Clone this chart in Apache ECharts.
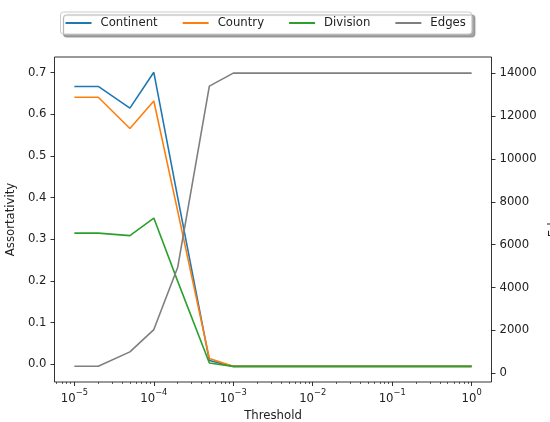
<!DOCTYPE html>
<html>
<head>
<meta charset="utf-8">
<script src="https://cdn.jsdelivr.net/npm/echarts@6/dist/echarts.min.js"></script>
<style>html,body{margin:0;padding:0;background:#fff}#c{width:550px;height:422px}</style>
</head>
<body>
<div id="c"></div>
<script>
// ---- data ----
const thresholds = [1e-5, 2e-5, 5e-5, 1e-4, 2e-4, 5e-4, 1e-3, 1e-2, 1e-1, 1];
const continent = [0.667, 0.667, 0.615, 0.701, 0.400, 0.009, -0.005, -0.005, -0.005, -0.005];
const country   = [0.641, 0.641, 0.566, 0.632, 0.367, 0.014, -0.005, -0.005, -0.005, -0.005];
const division  = [0.315, 0.315, 0.309, 0.351, 0.199, 0.003, -0.005, -0.005, -0.005, -0.005];
const edges     = [330, 330, 1000, 2040, 4950, 13400, 14010, 14010, 14010, 14010];
const xExponents = [-5, -4, -3, -2, -1, 0];
const leftTicks = [0, 0.1, 0.2, 0.3, 0.4, 0.5, 0.6, 0.7];
const rightTicks = [0, 2000, 4000, 6000, 8000, 10000, 12000, 14000];

const FONT = 'DejaVu Sans';
const FS = 11.7;
const pairs = (ys) => thresholds.map((x, i) => [x, ys[i]]);
// minor tick positions (log10 of 2..9 x 10^k) for decoration axis
const minorTicks = [];
for (let e = -6; e <= 0; e++) for (let m = 2; m <= 9; m++) {
  const v = e + Math.log10(m);
  if (v >= -5.25 && v <= 0.25) minorTicks.push(v);
}
const tickStyle = {color: '#000', width: 0.8};
const noLine = {show: false, onZero: false};
const supMinus = (e) => (e < 0 ? '\u2212' + (-e) : String(e));

const chart = echarts.init(document.getElementById('c'), null, {renderer: 'canvas'});
chart.setOption({
  animation: false,
  backgroundColor: '#fff',
  textStyle: {fontFamily: FONT},
  grid: {left: 54.5, right: 58.5, top: 57, bottom: 40, containLabel: false, outerBoundsMode: 'none',
         show: true, borderColor: '#000', borderWidth: 0.8, backgroundColor: 'transparent'},
  legend: {
    left: 60.5, top: 12,
    itemWidth: 26, itemHeight: 10, itemGap: 24,
    padding: [5, 6, 5, 4],
    backgroundColor: '#fff',
    borderColor: '#ccc', borderWidth: 1, borderRadius: 3,
    shadowColor: 'rgba(0,0,0,0.35)', shadowBlur: 1, shadowOffsetX: 3, shadowOffsetY: 3,
    itemStyle: {opacity: 0},
    textStyle: {fontFamily: FONT, fontSize: FS, color: '#222', padding: [0, 0, 0, 4]},
    data: ['Continent', 'Country', 'Division', 'Edges']
  },
  xAxis: [
    {type: 'log', logBase: 10, min: Math.pow(10, -5.25), max: Math.pow(10, 0.25), gridIndex: 0,
     axisLine: noLine, axisTick: {show: false}, axisLabel: {show: false}, splitLine: {show: false}},
    {type: 'value', min: -5.25, max: 0.25, gridIndex: 0, position: 'bottom',
     name: 'Threshold', nameLocation: 'middle', nameGap: 26,
     nameTextStyle: {fontFamily: FONT, fontSize: FS, color: '#222'},
     axisLine: noLine,
     axisTick: {show: true, length: 4, lineStyle: tickStyle, customValues: xExponents},
     axisLabel: {customValues: xExponents, margin: 7, color: '#222',
       formatter: (v) => '{b|10}{s|' + supMinus(Math.round(v)) + '}',
       rich: {b: {fontFamily: FONT, fontSize: FS, color: '#222', verticalAlign: 'bottom', lineHeight: 16},
              s: {fontFamily: FONT, fontSize: 8.3, color: '#222', verticalAlign: 'top', lineHeight: 16}}},
     splitLine: {show: false}},
    {type: 'value', min: -5.25, max: 0.25, gridIndex: 0, position: 'bottom',
     axisLine: noLine,
     axisTick: {show: true, length: 2, lineStyle: {color: '#000', width: 0.6}, customValues: minorTicks},
     axisLabel: {show: false}, splitLine: {show: false}}
  ],
  yAxis: [
    {type: 'value', min: -0.0425, max: 0.7377, position: 'left',
     name: 'Assortativity', nameLocation: 'middle', nameGap: 28, nameRotate: 90,
     nameTextStyle: {fontFamily: FONT, fontSize: FS, color: '#222'},
     axisLine: noLine,
     axisTick: {show: true, length: 4, lineStyle: tickStyle, customValues: leftTicks},
     axisLabel: {customValues: leftTicks, margin: 8, fontFamily: FONT, fontSize: FS, color: '#222',
       formatter: (v) => v.toFixed(1)},
     splitLine: {show: false}},
    {type: 'value', min: -406, max: 14761, position: 'right',
     name: 'Edges', nameLocation: 'middle', nameGap: 48, nameRotate: 90,
     nameTextStyle: {fontFamily: FONT, fontSize: FS, color: '#222'},
     axisLine: noLine,
     axisTick: {show: true, length: 4, lineStyle: tickStyle, customValues: rightTicks},
     axisLabel: {customValues: rightTicks, margin: 8, fontFamily: FONT, fontSize: FS, color: '#222',
       formatter: (v) => String(Math.round(v))},
     splitLine: {show: false}}
  ],
  series: [
    {name: 'Continent', type: 'line', xAxisIndex: 0, yAxisIndex: 0, data: pairs(continent), showSymbol: false, symbol: 'none',
     color: '#1f77b4', lineStyle: {width: 1.6, color: '#1f77b4'}},
    {name: 'Country', type: 'line', xAxisIndex: 0, yAxisIndex: 0, data: pairs(country), showSymbol: false, symbol: 'none',
     color: '#ff7f0e', lineStyle: {width: 1.6, color: '#ff7f0e'}},
    {name: 'Division', type: 'line', xAxisIndex: 0, yAxisIndex: 0, data: pairs(division), showSymbol: false, symbol: 'none',
     color: '#2ca02c', lineStyle: {width: 1.6, color: '#2ca02c'}},
    {name: 'Edges', type: 'line', xAxisIndex: 0, yAxisIndex: 1, data: pairs(edges), showSymbol: false, symbol: 'none',
     color: '#7f7f7f', lineStyle: {width: 1.6, color: '#7f7f7f'}}
  ]
});
</script>
</body>
</html>
